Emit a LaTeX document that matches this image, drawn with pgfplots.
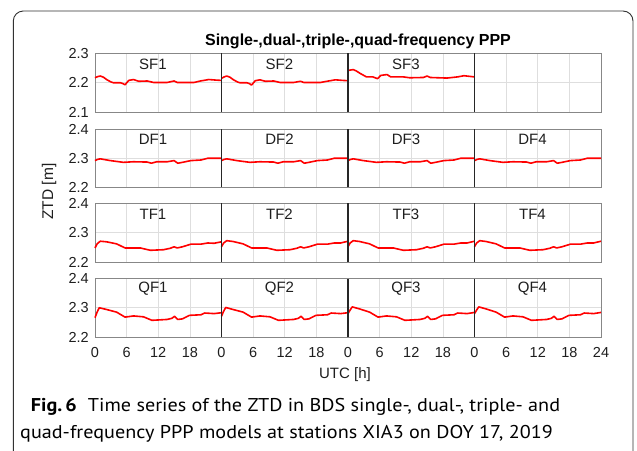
\documentclass[border=0pt]{standalone}
\usepackage{pgfplots}
\pgfplotsset{compat=1.18}
\usepackage{pgfplotstable}
\usepackage{fontspec}
\setmainfont{Liberation Sans}
\newfontfamily\capfont[FakeStretch=1.09]{PT Sans}

\definecolor{framec}{RGB}{135,135,135}
\definecolor{divider}{RGB}{38,38,38}
\definecolor{gridc}{RGB}{222,222,222}
\definecolor{boxc}{RGB}{50,50,50}
\definecolor{txt}{RGB}{30,30,30}

% ---------------- data ----------------
\pgfplotstableread{
t v
0 2.217
0.5 2.221
1 2.223
1.6 2.219
2.2 2.211
3 2.203
3.5 2.200
4.8 2.200
5.3 2.197
5.7 2.193
6.4 2.208
7.3 2.211
8.3 2.205
9.9 2.206
11.1 2.201
13.7 2.201
15 2.206
15.6 2.201
18.8 2.201
20 2.206
21.6 2.211
23 2.209
24 2.208
}\sfA
\pgfplotstableread{
t v
0 2.215
0.5 2.220
1 2.223
1.6 2.219
2.2 2.211
3 2.203
3.5 2.200
4.8 2.200
5.3 2.197
5.7 2.192
6.4 2.207
7.3 2.210
8.3 2.205
9.9 2.206
11.1 2.201
13.7 2.201
15 2.205
15.6 2.201
18.8 2.201
20 2.205
21.6 2.210
23 2.208
24 2.207
}\sfB
\pgfplotstableread{
t v
0 2.242
1 2.245
1.6 2.240
2.3 2.232
3.5 2.220
4.7 2.220
5.6 2.214
6.2 2.225
7.4 2.228
8.1 2.220
10.5 2.220
11.7 2.217
14.3 2.218
15 2.223
15.6 2.218
18.8 2.216
20.8 2.220
22 2.224
24 2.220
}\sfC
\pgfplotstableread{
t v
0 2.292
0.5 2.296
1 2.298
2.9 2.292
5.4 2.286
7.3 2.288
9.9 2.287
10.7 2.283
11.7 2.288
13.7 2.288
15 2.292
15.7 2.283
16.6 2.286
18.2 2.292
20.1 2.294
21.4 2.300
24 2.300
}\dfA
\pgfplotstableread{
t v
0 2.248
0.4 2.262
1 2.271
2.2 2.269
4.1 2.262
5.7 2.248
8.6 2.248
10.5 2.240
13 2.242
14.3 2.247
15 2.252
15.6 2.248
16.6 2.252
18.2 2.261
20.1 2.261
21.4 2.265
22.6 2.264
24 2.269
}\tfA
\pgfplotstableread{
t v
0 2.252
0.4 2.265
1 2.273
2.2 2.270
4.1 2.262
5.7 2.248
8.6 2.248
10.5 2.240
13 2.242
14.3 2.247
15 2.252
15.6 2.248
16.6 2.252
18.2 2.261
20.1 2.261
21.4 2.265
22.6 2.265
24 2.271
}\tfB
\pgfplotstableread{
t v
0 2.266
0.4 2.285
0.8 2.300
2.2 2.294
4.1 2.285
5.7 2.268
7.3 2.272
9.2 2.269
10.8 2.257
13.7 2.260
14.6 2.264
15.1 2.271
15.7 2.260
16.6 2.262
17.9 2.274
20.1 2.276
20.8 2.282
22.6 2.280
24 2.283
}\qfA
\pgfplotstableread{
t v
0 2.271
0.4 2.288
0.8 2.301
2.2 2.294
4.1 2.285
5.7 2.268
7.3 2.272
9.2 2.269
10.8 2.257
13.7 2.260
14.6 2.264
15.1 2.271
15.7 2.260
16.6 2.262
17.9 2.274
20.1 2.276
20.8 2.282
22.6 2.280
24 2.283
}\qfB
\pgfplotstableread{
t v
0 2.280
0.4 2.292
0.8 2.303
2.2 2.296
4.1 2.285
5.7 2.268
7.3 2.272
9.2 2.269
10.8 2.257
13.7 2.260
14.6 2.264
15.1 2.271
15.7 2.260
16.6 2.262
17.9 2.274
20.1 2.276
20.8 2.282
22.6 2.280
24 2.284
}\qfC

\pgfplotsset{
  panel/.style={
    scale only axis, width=126.5pt, height=58.5pt,
    xmin=0, xmax=24, xtick={0,6,12,18,24},
    grid=major, major grid style={gridc, line width=0.6pt},
    axis line style={framec, line width=0.9pt},
    major tick length=0pt,
    xticklabels={}, yticklabels={},
    tick label style={font=\fontsize{14.5}{14.5}\selectfont, text=txt},
    yticklabel style={inner sep=0pt, xshift=-6pt},
    xticklabel style={inner sep=0pt, yshift=-10pt, anchor=north},
    clip=false,
    anchor=south west,
  },
  sfrow/.style={ymin=2.1,ymax=2.3,ytick={2.1,2.2,2.3}},
  xrow/.style={ymin=2.2,ymax=2.4,ytick={2.2,2.3,2.4}},
  ztd/.style={red, line width=1.6pt, line join=round},
}
\newcommand{\plabel}[1]{\node[font=\fontsize{15}{15}\selectfont, text=txt] at (axis description cs:0.458,0.82) {#1};}
\newcommand{\divline}{\draw[divider, line width=1.1pt] (rel axis cs:0,0) -- (rel axis cs:0,1);}

\begin{document}
\begin{tikzpicture}
\useasboundingbox (0pt,0pt) rectangle (637pt,450pt);
\clip (0pt,0pt) rectangle (637pt,450pt);
\fill[white] (0pt,0pt) rectangle (637pt,450pt);
\draw[boxc, line width=0.9pt, rounded corners=10pt] (13.3pt,-30pt) -- (13.3pt,439pt) -- (633pt,439pt) -- (633pt,-30pt);

% ---- SF row ----
\begin{axis}[panel, sfrow, at={(95pt,338pt)}, yticklabels={2.1,2.2,2.3}]
\addplot[ztd] table {\sfA}; \plabel{SF1}
\end{axis}
\begin{axis}[panel, sfrow, at={(221.5pt,338pt)}]
\addplot[ztd] table {\sfB}; \plabel{SF2} \divline
\end{axis}
\begin{axis}[panel, sfrow, at={(348pt,338pt)}]
\addplot[ztd] table {\sfC}; \plabel{SF3} \divline
\end{axis}
\begin{axis}[panel, sfrow, at={(474.5pt,338pt)}]
\divline
\end{axis}

% ---- DF row ----
\begin{axis}[panel, xrow, at={(95pt,262.5pt)}, yticklabels={2.2,2.3,2.4}]
\addplot[ztd] table {\dfA}; \plabel{DF1}
\end{axis}
\begin{axis}[panel, xrow, at={(221.5pt,262.5pt)}]
\addplot[ztd] table {\dfA}; \plabel{DF2} \divline
\end{axis}
\begin{axis}[panel, xrow, at={(348pt,262.5pt)}]
\addplot[ztd] table {\dfA}; \plabel{DF3} \divline
\end{axis}
\begin{axis}[panel, xrow, at={(474.5pt,262.5pt)}]
\addplot[ztd] table {\dfA}; \plabel{DF4} \divline
\end{axis}

% ---- TF row ----
\begin{axis}[panel, xrow, at={(95pt,188pt)}, yticklabels={2.2,2.3,2.4}]
\addplot[ztd] table {\tfA}; \plabel{TF1}
\end{axis}
\begin{axis}[panel, xrow, at={(221.5pt,188pt)}]
\addplot[ztd] table {\tfB}; \plabel{TF2} \divline
\end{axis}
\begin{axis}[panel, xrow, at={(348pt,188pt)}]
\addplot[ztd] table {\tfB}; \plabel{TF3} \divline
\end{axis}
\begin{axis}[panel, xrow, at={(474.5pt,188pt)}]
\addplot[ztd] table {\tfB}; \plabel{TF4} \divline
\end{axis}

% ---- QF row ----
\begin{axis}[panel, xrow, at={(95pt,113pt)}, yticklabels={2.2,2.3,2.4}, xticklabels={0,6,12,18,{}}]
\addplot[ztd] table {\qfA}; \plabel{QF1}
\end{axis}
\begin{axis}[panel, xrow, at={(221.5pt,113pt)}, xticklabels={0,6,12,18,{}}]
\addplot[ztd] table {\qfB}; \plabel{QF2} \divline
\end{axis}
\begin{axis}[panel, xrow, at={(348pt,113pt)}, xticklabels={0,6,12,18,{}}]
\addplot[ztd] table {\qfC}; \plabel{QF3} \divline
\end{axis}
\begin{axis}[panel, xrow, at={(474.5pt,113pt)}, xticklabels={0,6,12,18,24}]
\addplot[ztd] table {\qfC}; \plabel{QF4} \divline
\end{axis}

% ---- titles and labels ----
\node[anchor=base, font=\bfseries\fontsize{16}{16}\selectfont, text=black, inner sep=0pt] at (358pt,404.5pt) {Single-,dual-,triple-,quad-frequency PPP};
\node[anchor=base, font=\fontsize{15}{15}\selectfont, text=txt, inner sep=0pt] at (345pt,72pt) {UTC [h]};
\node[anchor=base, rotate=90, font=\fontsize{15.5}{15.5}\selectfont, text=txt, inner sep=0pt] at (53pt,258.5pt) {ZTD [m]};

% ---- caption ----
\node[anchor=base west, inner sep=0pt, font=\capfont\fontsize{18.5}{18.5}\selectfont] at (30.7pt,39pt) {\textbf{Fig.\,6}\hspace{0.6em}Time series of the ZTD in BDS single-, dual-, triple- and};
\node[anchor=base west, inner sep=0pt, font=\capfont\fontsize{18.5}{18.5}\selectfont] at (20pt,12pt) {quad-frequency PPP models at stations XIA3 on DOY 17, 2019};
\end{tikzpicture}
\end{document}
